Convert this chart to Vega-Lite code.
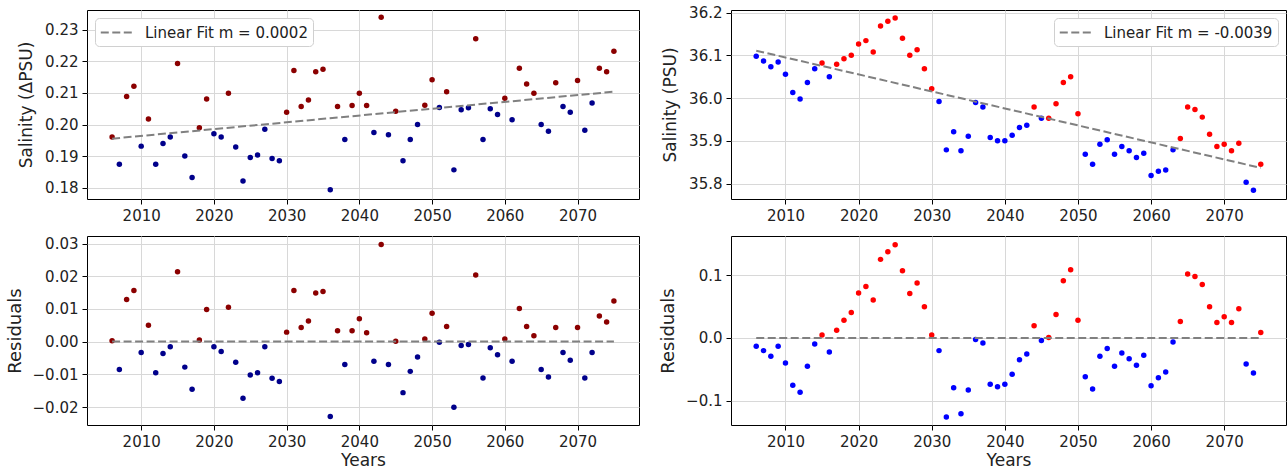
{
  "$schema": "https://vega.github.io/schema/vega-lite/v6.json",
  "autosize": {"type": "pad"},
  "padding": {"left": 5, "top": 5, "right": 0, "bottom": 0},
  "background": "white",
  "datasets": {
    "left": [
      {"year":2006,"value":0.1961,"residual":0.0003,"side":"above"},
      {"year":2007,"value":0.1875,"residual":-0.0085,"side":"below"},
      {"year":2008,"value":0.2089,"residual":0.0129,"side":"above"},
      {"year":2009,"value":0.2121,"residual":0.0156,"side":"above"},
      {"year":2010,"value":0.1932,"residual":-0.0033,"side":"below"},
      {"year":2011,"value":0.2018,"residual":0.0050,"side":"above"},
      {"year":2012,"value":0.1875,"residual":-0.0095,"side":"below"},
      {"year":2013,"value":0.1940,"residual":-0.0036,"side":"below"},
      {"year":2014,"value":0.1961,"residual":-0.0016,"side":"below"},
      {"year":2015,"value":0.2193,"residual":0.0214,"side":"above"},
      {"year":2016,"value":0.1901,"residual":-0.0078,"side":"below"},
      {"year":2017,"value":0.1833,"residual":-0.0146,"side":"below"},
      {"year":2018,"value":0.1990,"residual":0.0005,"side":"above"},
      {"year":2019,"value":0.2081,"residual":0.0098,"side":"above"},
      {"year":2020,"value":0.1971,"residual":-0.0016,"side":"below"},
      {"year":2021,"value":0.1961,"residual":-0.0030,"side":"below"},
      {"year":2022,"value":0.2099,"residual":0.0105,"side":"above"},
      {"year":2023,"value":0.1929,"residual":-0.0063,"side":"below"},
      {"year":2024,"value":0.1822,"residual":-0.0173,"side":"below"},
      {"year":2025,"value":0.1896,"residual":-0.0102,"side":"below"},
      {"year":2026,"value":0.1904,"residual":-0.0095,"side":"below"},
      {"year":2027,"value":0.1985,"residual":-0.0016,"side":"below"},
      {"year":2028,"value":0.1893,"residual":-0.0112,"side":"below"},
      {"year":2029,"value":0.1886,"residual":-0.0122,"side":"below"},
      {"year":2030,"value":0.2039,"residual":0.0029,"side":"above"},
      {"year":2031,"value":0.2171,"residual":0.0156,"side":"above"},
      {"year":2032,"value":0.2057,"residual":0.0043,"side":"above"},
      {"year":2033,"value":0.2078,"residual":0.0063,"side":"above"},
      {"year":2034,"value":0.2167,"residual":0.0149,"side":"above"},
      {"year":2035,"value":0.2175,"residual":0.0153,"side":"above"},
      {"year":2036,"value":0.1794,"residual":-0.0229,"side":"below"},
      {"year":2037,"value":0.2057,"residual":0.0033,"side":"above"},
      {"year":2038,"value":0.1953,"residual":-0.0070,"side":"below"},
      {"year":2039,"value":0.2060,"residual":0.0033,"side":"above"},
      {"year":2040,"value":0.2099,"residual":0.0070,"side":"above"},
      {"year":2041,"value":0.2060,"residual":0.0027,"side":"above"},
      {"year":2042,"value":0.1975,"residual":-0.0060,"side":"below"},
      {"year":2043,"value":0.2339,"residual":0.0297,"side":"above"},
      {"year":2044,"value":0.1968,"residual":-0.0070,"side":"below"},
      {"year":2045,"value":0.2042,"residual":0.0001,"side":"above"},
      {"year":2046,"value":0.1886,"residual":-0.0156,"side":"below"},
      {"year":2047,"value":0.1953,"residual":-0.0091,"side":"below"},
      {"year":2048,"value":0.2000,"residual":-0.0047,"side":"below"},
      {"year":2049,"value":0.2061,"residual":0.0008,"side":"above"},
      {"year":2050,"value":0.2142,"residual":0.0087,"side":"above"},
      {"year":2051,"value":0.2054,"residual":-0.0002,"side":"below"},
      {"year":2052,"value":0.2104,"residual":0.0046,"side":"above"},
      {"year":2053,"value":0.1857,"residual":-0.0201,"side":"below"},
      {"year":2054,"value":0.2047,"residual":-0.0012,"side":"below"},
      {"year":2055,"value":0.2053,"residual":-0.0009,"side":"below"},
      {"year":2056,"value":0.2271,"residual":0.0204,"side":"above"},
      {"year":2057,"value":0.1953,"residual":-0.0111,"side":"below"},
      {"year":2058,"value":0.2050,"residual":-0.0019,"side":"below"},
      {"year":2059,"value":0.2032,"residual":-0.0040,"side":"below"},
      {"year":2060,"value":0.2083,"residual":0.0008,"side":"above"},
      {"year":2061,"value":0.2015,"residual":-0.0060,"side":"below"},
      {"year":2062,"value":0.2178,"residual":0.0101,"side":"above"},
      {"year":2063,"value":0.2128,"residual":0.0046,"side":"above"},
      {"year":2064,"value":0.2099,"residual":0.0018,"side":"above"},
      {"year":2065,"value":0.2000,"residual":-0.0085,"side":"below"},
      {"year":2066,"value":0.1979,"residual":-0.0108,"side":"below"},
      {"year":2067,"value":0.2132,"residual":0.0043,"side":"above"},
      {"year":2068,"value":0.2057,"residual":-0.0033,"side":"below"},
      {"year":2069,"value":0.2039,"residual":-0.0057,"side":"below"},
      {"year":2070,"value":0.2139,"residual":0.0043,"side":"above"},
      {"year":2071,"value":0.1982,"residual":-0.0111,"side":"below"},
      {"year":2072,"value":0.2068,"residual":-0.0033,"side":"below"},
      {"year":2073,"value":0.2178,"residual":0.0078,"side":"above"},
      {"year":2074,"value":0.2167,"residual":0.0060,"side":"above"},
      {"year":2075,"value":0.2232,"residual":0.0124,"side":"above"}
    ],
    "right": [
      {"year":2006,"value":36.0977,"residual":-0.0133,"side":"below"},
      {"year":2007,"value":36.0867,"residual":-0.0203,"side":"below"},
      {"year":2008,"value":36.0734,"residual":-0.0293,"side":"below"},
      {"year":2009,"value":36.0844,"residual":-0.0133,"side":"below"},
      {"year":2010,"value":36.0555,"residual":-0.0400,"side":"below"},
      {"year":2011,"value":36.0133,"residual":-0.0757,"side":"below"},
      {"year":2012,"value":35.9977,"residual":-0.0869,"side":"below"},
      {"year":2013,"value":36.0367,"residual":-0.0453,"side":"below"},
      {"year":2014,"value":36.0688,"residual":-0.0096,"side":"below"},
      {"year":2015,"value":36.0820,"residual":0.0048,"side":"above"},
      {"year":2016,"value":36.0500,"residual":-0.0224,"side":"below"},
      {"year":2017,"value":36.0789,"residual":0.0123,"side":"above"},
      {"year":2018,"value":36.0922,"residual":0.0283,"side":"above"},
      {"year":2019,"value":36.1000,"residual":0.0405,"side":"above"},
      {"year":2020,"value":36.1266,"residual":0.0715,"side":"above"},
      {"year":2021,"value":36.1344,"residual":0.0821,"side":"above"},
      {"year":2022,"value":36.1078,"residual":0.0603,"side":"above"},
      {"year":2023,"value":36.1688,"residual":0.1253,"side":"above"},
      {"year":2024,"value":36.1797,"residual":0.1376,"side":"above"},
      {"year":2025,"value":36.1875,"residual":0.1488,"side":"above"},
      {"year":2026,"value":36.1398,"residual":0.1072,"side":"above"},
      {"year":2027,"value":36.1000,"residual":0.0709,"side":"above"},
      {"year":2028,"value":36.1133,"residual":0.0875,"side":"above"},
      {"year":2029,"value":36.0688,"residual":0.0496,"side":"above"},
      {"year":2030,"value":36.0219,"residual":0.0048,"side":"above"},
      {"year":2031,"value":35.9922,"residual":-0.0203,"side":"below"},
      {"year":2032,"value":35.8789,"residual":-0.1264,"side":"below"},
      {"year":2033,"value":35.9211,"residual":-0.0795,"side":"below"},
      {"year":2034,"value":35.8766,"residual":-0.1211,"side":"below"},
      {"year":2035,"value":35.9109,"residual":-0.0832,"side":"below"},
      {"year":2036,"value":35.9898,"residual":-0.0027,"side":"below"},
      {"year":2037,"value":35.9789,"residual":-0.0080,"side":"below"},
      {"year":2038,"value":35.9078,"residual":-0.0741,"side":"below"},
      {"year":2039,"value":35.9000,"residual":-0.0779,"side":"below"},
      {"year":2040,"value":35.9000,"residual":-0.0741,"side":"below"},
      {"year":2041,"value":35.9133,"residual":-0.0581,"side":"below"},
      {"year":2042,"value":35.9313,"residual":-0.0347,"side":"below"},
      {"year":2043,"value":35.9367,"residual":-0.0256,"side":"below"},
      {"year":2044,"value":35.9789,"residual":0.0192,"side":"above"},
      {"year":2045,"value":35.9531,"residual":-0.0043,"side":"below"},
      {"year":2046,"value":35.9531,"residual":0.0005,"side":"above"},
      {"year":2047,"value":35.9867,"residual":0.0373,"side":"above"},
      {"year":2048,"value":36.0367,"residual":0.0912,"side":"above"},
      {"year":2049,"value":36.0500,"residual":0.1088,"side":"above"},
      {"year":2050,"value":35.9633,"residual":0.0283,"side":"above"},
      {"year":2051,"value":35.8688,"residual":-0.0619,"side":"below"},
      {"year":2052,"value":35.8453,"residual":-0.0816,"side":"below"},
      {"year":2053,"value":35.8922,"residual":-0.0293,"side":"below"},
      {"year":2054,"value":35.9023,"residual":-0.0171,"side":"below"},
      {"year":2055,"value":35.8688,"residual":-0.0453,"side":"below"},
      {"year":2056,"value":35.8867,"residual":-0.0240,"side":"below"},
      {"year":2057,"value":35.8766,"residual":-0.0331,"side":"below"},
      {"year":2058,"value":35.8609,"residual":-0.0437,"side":"below"},
      {"year":2059,"value":35.8711,"residual":-0.0277,"side":"below"},
      {"year":2060,"value":35.8188,"residual":-0.0763,"side":"below"},
      {"year":2061,"value":35.8289,"residual":-0.0635,"side":"below"},
      {"year":2062,"value":35.8320,"residual":-0.0544,"side":"below"},
      {"year":2063,"value":35.8789,"residual":-0.0064,"side":"below"},
      {"year":2064,"value":35.9055,"residual":0.0261,"side":"above"},
      {"year":2065,"value":35.9789,"residual":0.1019,"side":"above"},
      {"year":2066,"value":35.9734,"residual":0.0981,"side":"above"},
      {"year":2067,"value":35.9555,"residual":0.0853,"side":"above"},
      {"year":2068,"value":35.9156,"residual":0.0496,"side":"above"},
      {"year":2069,"value":35.8867,"residual":0.0245,"side":"above"},
      {"year":2070,"value":35.8922,"residual":0.0336,"side":"above"},
      {"year":2071,"value":35.8766,"residual":0.0245,"side":"above"},
      {"year":2072,"value":35.8945,"residual":0.0464,"side":"above"},
      {"year":2073,"value":35.8031,"residual":-0.0416,"side":"below"},
      {"year":2074,"value":35.7844,"residual":-0.0560,"side":"below"},
      {"year":2075,"value":35.8453,"residual":0.0085,"side":"above"}
    ]
  },
  "columns": 2,
  "bounds": "flush",
  "spacing": {"row": 37, "column": 92},
  "resolve": {
    "scale": {"x": "independent", "y": "independent", "color": "independent", "stroke": "independent"},
    "axis": {"x": "independent", "y": "independent"},
    "legend": {"color": "independent", "stroke": "independent"}
  },
  "concat": [
    {
      "width": 552, "height": 189,
      "data": {"name": "left"},
      "encoding": {
        "x": {"field": "year", "type": "quantitative", "scale": {"domain": [2002.55, 2078.45], "nice": false, "zero": false}, "axis": {"values": [2010,2020,2030,2040,2050,2060,2070], "format": "d", "title": null}},
        "y": {"field": "value", "type": "quantitative", "scale": {"domain": [0.1765, 0.2362], "nice": false, "zero": false}, "axis": {"values": [0.18,0.19,0.20,0.21,0.22,0.23], "format": ".2f", "title": "Salinity (ΔPSU)", "titleFontSize": 17, "titlePadding": 9}}
      },
      "layer": [
        {"mark": {"type": "point", "filled": true, "size": 30, "opacity": 1},
         "encoding": {"color": {"field": "side", "type": "nominal", "scale": {"domain": ["above","below"], "range": ["#8b0000","#00008b"]}, "legend": null}}},
        {"transform": [{"regression": "value", "on": "year"}],
         "mark": {"type": "line", "strokeDash": [8, 3.5], "strokeWidth": 2},
         "encoding": {"stroke": {"datum": "Linear Fit m = 0.0002", "type": "nominal", "scale": {"range": ["#808080"]}, "legend": {"orient": "top-left", "title": null}}}}
      ]
    },
    {
      "width": 555, "height": 189,
      "data": {"name": "right"},
      "encoding": {
        "x": {"field": "year", "type": "quantitative", "scale": {"domain": [2002.55, 2078.45], "nice": false, "zero": false}, "axis": {"values": [2010,2020,2030,2040,2050,2060,2070], "format": "d", "title": null}},
        "y": {"field": "value", "type": "quantitative", "scale": {"domain": [35.764, 36.206], "nice": false, "zero": false}, "axis": {"values": [35.8,35.9,36.0,36.1,36.2], "format": ".1f", "title": "Salinity (PSU)", "titleFontSize": 17, "titlePadding": 9}}
      },
      "layer": [
        {"mark": {"type": "point", "filled": true, "size": 30, "opacity": 1},
         "encoding": {"color": {"field": "side", "type": "nominal", "scale": {"domain": ["above","below"], "range": ["#ff0000","#0000ff"]}, "legend": null}}},
        {"transform": [{"regression": "value", "on": "year"}],
         "mark": {"type": "line", "strokeDash": [8, 3.5], "strokeWidth": 2},
         "encoding": {"stroke": {"datum": "Linear Fit m = -0.0039", "type": "nominal", "scale": {"range": ["#808080"]}, "legend": {"orient": "top-right", "title": null}}}}
      ]
    },
    {
      "width": 552, "height": 189,
      "data": {"name": "left"},
      "encoding": {
        "x": {"field": "year", "type": "quantitative", "scale": {"domain": [2002.55, 2078.45], "nice": false, "zero": false}, "axis": {"values": [2010,2020,2030,2040,2050,2060,2070], "format": "d", "title": "Years", "titleFontSize": 17, "titlePadding": 3}}
      },
      "layer": [
        {"mark": {"type": "point", "filled": true, "size": 30, "opacity": 1},
         "encoding": {
           "y": {"field": "residual", "type": "quantitative", "scale": {"domain": [-0.0255, 0.0323], "nice": false, "zero": false}, "axis": {"values": [-0.02,-0.01,0,0.01,0.02,0.03], "format": ".2f", "title": "Residuals", "titleFontSize": 18, "titlePadding": 8}},
           "color": {"field": "side", "type": "nominal", "scale": {"domain": ["above","below"], "range": ["#8b0000","#00008b"]}, "legend": null}}},
        {"mark": {"type": "line", "color": "#808080", "strokeDash": [8, 3.5], "strokeWidth": 2},
         "encoding": {"y": {"datum": 0, "type": "quantitative", "axis": {"values": [-0.02,-0.01,0,0.01,0.02,0.03], "format": ".2f", "title": "Residuals", "titleFontSize": 18, "titlePadding": 8}}}}
      ]
    },
    {
      "width": 555, "height": 189,
      "data": {"name": "right"},
      "encoding": {
        "x": {"field": "year", "type": "quantitative", "scale": {"domain": [2002.55, 2078.45], "nice": false, "zero": false}, "axis": {"values": [2010,2020,2030,2040,2050,2060,2070], "format": "d", "title": "Years", "titleFontSize": 17, "titlePadding": 3}}
      },
      "layer": [
        {"mark": {"type": "point", "filled": true, "size": 30, "opacity": 1},
         "encoding": {
           "y": {"field": "residual", "type": "quantitative", "scale": {"domain": [-0.139, 0.1626], "nice": false, "zero": false}, "axis": {"values": [-0.1,0,0.1], "format": ".1f", "title": "Residuals", "titleFontSize": 18, "titlePadding": 8}},
           "color": {"field": "side", "type": "nominal", "scale": {"domain": ["above","below"], "range": ["#ff0000","#0000ff"]}, "legend": null}}},
        {"mark": {"type": "line", "color": "#808080", "strokeDash": [8, 3.5], "strokeWidth": 2},
         "encoding": {"y": {"datum": 0, "type": "quantitative", "axis": {"values": [-0.1,0,0.1], "format": ".1f", "title": "Residuals", "titleFontSize": 18, "titlePadding": 8}}}}
      ]
    }
  ],
  "config": {
    "font": "DejaVu Sans",
    "view": {"stroke": "#000000", "strokeWidth": 1},
    "axis": {
      "domain": false, "grid": true, "gridColor": "#d8d8d8", "gridWidth": 1,
      "tickColor": "#000000", "tickSize": 5, "tickWidth": 1, "labelOverlap": false,
      "labelFontSize": 15, "labelColor": "#222222", "labelPadding": 4,
      "labelFont": "DejaVu Sans", "titleFont": "DejaVu Sans", "titleFontWeight": "normal", "titleColor": "#222222"
    },
    "legend": {
      "labelFontSize": 15, "labelFont": "DejaVu Sans", "labelColor": "#222222", "labelLimit": 400,
      "symbolType": "M-1.85,0H1.85", "symbolSize": 289, "symbolStrokeWidth": 2, "symbolDash": [8, 3.5],
      "symbolOffset": 7,
      "fillColor": "white", "strokeColor": "#d0d0d0", "cornerRadius": 4, "padding": 5,
      "labelOffset": 19, "offset": 8
    }
  }
}
